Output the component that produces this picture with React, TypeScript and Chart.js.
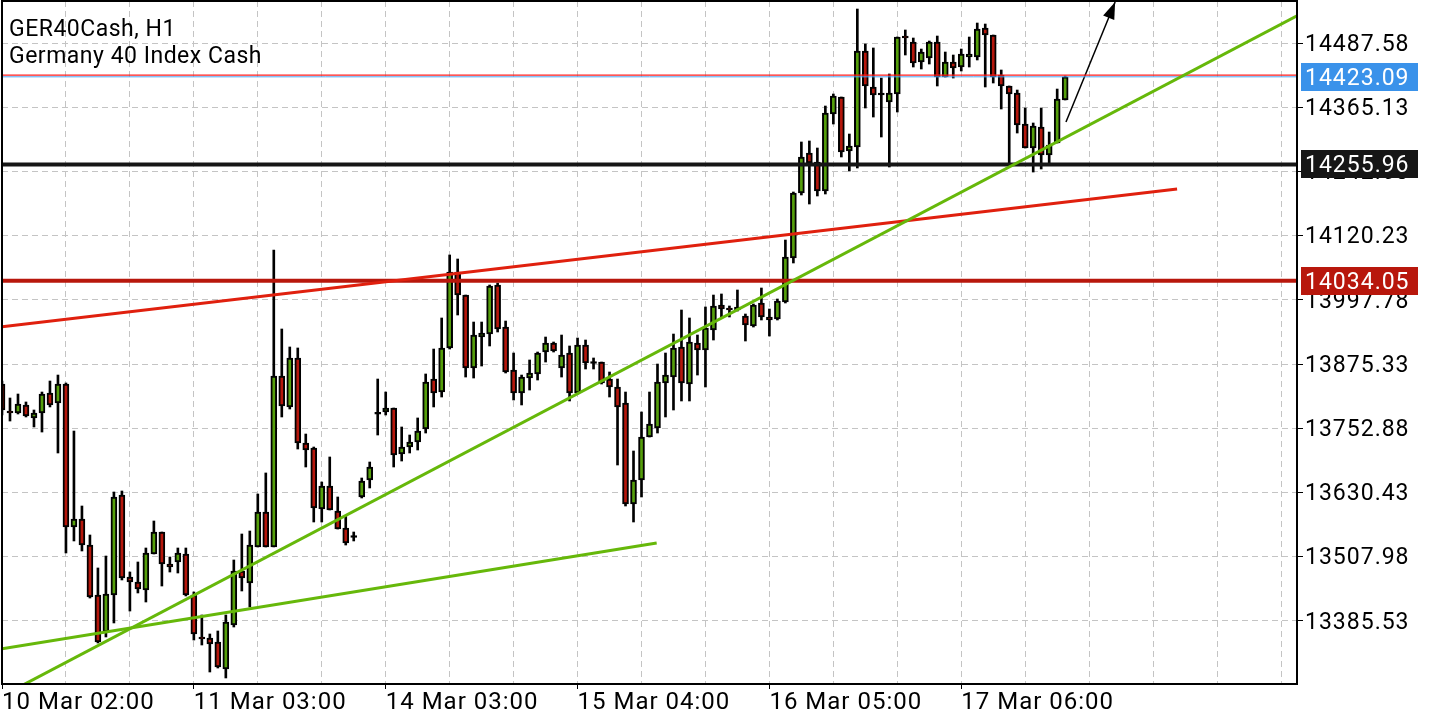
import { useEffect, useRef } from 'react';
import { Chart, registerables } from 'chart.js';

Chart.register(...registerables);

// ---- data (H1 bars, index 0 = 10 Mar 02:00) ----
const opens = [
  13837.2, 13785.7, 13781.9, 13797.2, 13772.4, 13781.9, 13820.0, 13801.0, 13837.2, 13564.5,
  13579.7, 13530.1, 13434.8, 13364.2, 13434.8, 13625.5, 13469.1, 13459.6, 13444.3, 13513.0,
  13554.9, 13493.9, 13497.7, 13513.0, 13434.8, 13354.7, 13352.7, 13345.1, 13293.6, 13377.5,
  13480.5, 13457.7, 13526.3, 13593.1, 13526.3, 13852.4, 13793.4, 13886.8, 13724.7, 13715.1,
  13598.8, 13642.7, 13595.0, 13562.5, 13547.3, 13621.7, 13654.1, 13782.0, 13783.8, 13791.4,
  13703.7, 13717.0, 13726.6, 13751.3, 13846.7, 13821.9, 13905.9, 14050.8, 14006.9, 13867.7,
  13926.8, 13932.5, 14026.0, 13945.9, 13863.9, 13820.0, 13848.6, 13856.3, 13898.2, 13915.4,
  13867.7, 13896.3, 13820.0, 13911.6, 13879.1, 13879.1, 13846.7, 13831.5, 13801.0, 13608.3,
  13654.1, 13736.1, 13753.2, 13839.1, 13850.5, 13907.8, 13837.2, 13915.4, 13902.0, 13940.2,
  13987.9, 13982.1, 13978.3, 13966.9, 13947.8, 13991.7, 13965.0, 13961.2, 13993.6, 14077.5,
  14201.5, 14277.8, 14260.6, 14205.3, 14352.2, 14384.6, 14281.6, 14289.2, 14472.3, 14403.7,
  14391.2, 14375.0, 14390.3, 14500.9, 14489.5, 14451.3, 14459.0, 14489.5, 14422.7, 14451.3,
  14441.8, 14460.9, 14460.9, 14516.2, 14502.8, 14426.6, 14405.6, 14392.2, 14333.1, 14287.3,
  14327.4, 14274.0, 14296.8, 14378.9,
];
const highs = [
  13842.9, 13810.5, 13818.1, 13802.9, 13787.6, 13821.9, 13842.9, 13854.3, 13839.1, 13747.5,
  13604.5, 13549.2, 13486.3, 13509.1, 13631.2, 13633.1, 13478.6, 13497.7, 13524.4, 13575.9,
  13554.9, 13507.2, 13524.4, 13524.4, 13440.5, 13396.6, 13360.4, 13366.1, 13396.6, 13501.5,
  13551.1, 13556.8, 13627.4, 13667.5, 14092.8, 13942.1, 13907.8, 13905.9, 13741.8, 13717.0,
  13650.3, 13698.0, 13621.7, 13585.4, 13554.9, 13657.9, 13688.4, 13846.7, 13821.9, 13791.4,
  13755.2, 13739.9, 13772.4, 13856.3, 13903.9, 13963.1, 14083.3, 14075.6, 14006.9, 13955.4,
  13955.4, 14026.0, 14029.8, 13957.3, 13896.3, 13854.3, 13883.0, 13898.2, 13926.8, 13917.3,
  13930.6, 13909.7, 13924.9, 13921.1, 13886.8, 13879.1, 13860.1, 13846.7, 13821.9, 13709.4,
  13783.8, 13821.9, 13875.3, 13896.3, 13932.5, 13978.3, 13963.1, 13930.6, 13984.1, 14006.9,
  14008.9, 13986.0, 14016.5, 13970.7, 13989.8, 14020.3, 13980.2, 13999.3, 14111.8, 14203.4,
  14298.8, 14300.7, 14287.3, 14367.4, 14390.3, 14384.6, 14314.0, 14552.4, 14485.7, 14478.1,
  14420.8, 14428.5, 14499.0, 14512.4, 14497.1, 14476.1, 14491.4, 14500.9, 14470.4, 14464.7,
  14476.1, 14499.0, 14525.7, 14523.8, 14502.8, 14436.1, 14405.6, 14397.9, 14363.6, 14335.0,
  14363.6, 14317.8, 14399.8, 14424.6,
];
const lows = [
  13778.1, 13766.6, 13780.0, 13774.3, 13755.2, 13745.6, 13793.4, 13705.6, 13514.9, 13537.8,
  13518.7, 13429.0, 13343.2, 13354.7, 13381.4, 13463.4, 13404.2, 13438.6, 13421.4, 13513.0,
  13451.9, 13478.6, 13476.7, 13432.9, 13348.9, 13339.4, 13287.9, 13295.5, 13276.5, 13373.7,
  13442.4, 13411.9, 13526.3, 13526.3, 13526.3, 13774.3, 13789.5, 13713.2, 13678.9, 13574.0,
  13574.0, 13596.9, 13560.6, 13530.1, 13537.8, 13619.8, 13638.9, 13739.9, 13778.1, 13678.9,
  13690.3, 13705.6, 13711.3, 13743.7, 13793.4, 13812.4, 13903.9, 13968.8, 13850.5, 13848.6,
  13871.5, 13909.7, 13936.4, 13858.2, 13806.7, 13797.2, 13825.7, 13844.8, 13879.1, 13898.2,
  13850.5, 13804.8, 13818.1, 13865.8, 13865.8, 13837.2, 13812.4, 13682.7, 13604.5, 13574.0,
  13621.7, 13736.1, 13743.7, 13774.3, 13787.6, 13804.8, 13804.8, 13854.3, 13831.5, 13921.1,
  13965.0, 13965.0, 13976.4, 13919.2, 13945.9, 13959.3, 13928.7, 13959.3, 13991.7, 14068.0,
  14197.7, 14180.5, 14195.8, 14199.6, 14333.1, 14270.2, 14243.4, 14249.2, 14363.6, 14346.4,
  14308.3, 14251.1, 14356.0, 14464.7, 14441.8, 14438.0, 14447.5, 14405.6, 14422.7, 14420.8,
  14434.2, 14441.8, 14455.2, 14403.7, 14411.3, 14361.7, 14254.9, 14315.9, 14287.3, 14241.5,
  14247.3, 14258.7, 14296.8, 14378.9,
];
const closes = [
  13787.6, 13781.9, 13799.0, 13776.2, 13781.9, 13818.1, 13797.2, 13837.2, 13564.5, 13579.7,
  13530.1, 13430.9, 13345.1, 13436.7, 13621.7, 13467.2, 13459.6, 13446.2, 13514.9, 13554.9,
  13493.9, 13488.2, 13514.9, 13434.8, 13360.4, 13350.8, 13341.3, 13297.4, 13383.3, 13480.5,
  13467.2, 13530.1, 13593.1, 13526.3, 13852.4, 13795.2, 13886.8, 13724.7, 13711.3, 13600.7,
  13642.7, 13596.9, 13560.6, 13533.9, 13545.4, 13652.2, 13678.9, 13781.0, 13791.4, 13701.8,
  13717.0, 13726.6, 13747.5, 13841.0, 13820.0, 13905.9, 14050.8, 14006.9, 13867.7, 13930.6,
  13934.5, 14024.1, 13942.1, 13860.1, 13820.0, 13850.5, 13858.2, 13896.3, 13915.4, 13900.1,
  13892.5, 13820.0, 13911.6, 13877.2, 13877.2, 13839.1, 13831.5, 13793.4, 13608.3, 13654.1,
  13736.1, 13760.9, 13841.0, 13854.3, 13905.9, 13839.1, 13917.3, 13902.0, 13944.0, 13986.0,
  13980.2, 13978.3, 13984.1, 13949.7, 13987.9, 13965.0, 13959.3, 13995.5, 14079.4, 14201.5,
  14270.2, 14258.7, 14205.3, 14354.1, 14386.5, 14279.7, 14291.1, 14472.3, 14405.6, 14388.4,
  14389.4, 14392.2, 14499.0, 14497.1, 14449.4, 14470.4, 14489.5, 14422.7, 14451.3, 14439.9,
  14466.6, 14466.6, 14514.3, 14502.8, 14422.7, 14405.6, 14390.3, 14331.2, 14287.3, 14329.3,
  14274.0, 14293.0, 14380.8, 14423.09,
];

const timeLabelBars = [0, 24, 48, 72, 96, 120];
const timeLabels = ['10 Mar 02:00', '11 Mar 03:00', '14 Mar 03:00', '15 Mar 04:00', '16 Mar 05:00', '17 Mar 06:00'];
const priceTicks = [13385.53, 13507.98, 13630.43, 13752.88, 13875.33, 13997.78, 14120.23, 14242.68, 14365.13, 14487.58];

const bidPrice = 14423.09;
const askPrice = 14426.4;
const resistancePrice = 14255.96;
const supportPrice = 14034.05;

const steepTrendX = [0, 162];
const steepTrendY = [13242.1, 14539.3];
const shallowTrendX = [0, 81.9];
const shallowTrendY = [13332.4, 13534.0];
const redTrendX = [0, 147];
const redTrendY = [13946.3, 14209.1];
const arrowX = [133.1, 139.25];
const arrowY = [14336.9, 14565.8];

const X_MIN = 0;
const X_MAX = 162;
const Y_MIN = 13265.0;
const Y_MAX = 14567.7;

const UP = '#559f0b';
const DOWN = '#b5170c';
const FONT = 'Roboto';

function twoPoint(xs: number[], ys: number[]) {
  return xs.map((x, i) => ({ x, y: ys[i] }));
}

export default function App() {
  const ref = useRef<HTMLCanvasElement>(null);

  useEffect(() => {
    const canvas = ref.current;
    if (!canvas) return;

    const bodyData = opens.map((o, i) => {
      const c = closes[i];
      if (Math.abs(c - o) < 3) {
        const m = (o + c) / 2;
        return { x: i, y: [m - 1.8, m + 1.8] };
      }
      return { x: i, y: [o, c] };
    });
    const bodyColors = opens.map((o, i) => {
      const c = closes[i];
      if (Math.abs(c - o) < 3) return '#000';
      return c > o ? UP : DOWN;
    });
    const wickData = lows.map((l, i) => ({ x: i, y: [l, highs[i]] }));

    const lineDs = (data: any[], color: string, width: number) => ({
      type: 'line' as const,
      data,
      borderColor: color,
      borderWidth: width,
      pointRadius: 0,
      tension: 0,
      order: 0,
    });

    const letterSpacingPlugin = {
      id: 'spacing',
      beforeDraw(chart: any) {
        chart.ctx.letterSpacing = '1px';
      },
    };

    const overlayPlugin = {
      id: 'overlay',
      afterDatasetsDraw(chart: any) {
        const { ctx, scales } = chart;
        const x = scales.x;
        const y = scales.y;
        // arrow head
        const x1 = x.getPixelForValue(arrowX[0]);
        const y1 = y.getPixelForValue(arrowY[0]);
        const x2 = x.getPixelForValue(arrowX[1]);
        const y2 = y.getPixelForValue(arrowY[1]);
        const ang = Math.atan2(y2 - y1, x2 - x1);
        const len = 17;
        const hw = 6;
        const bx = x2 - len * Math.cos(ang);
        const by = y2 - len * Math.sin(ang);
        ctx.save();
        ctx.fillStyle = '#000';
        ctx.beginPath();
        ctx.moveTo(x2, y2);
        ctx.lineTo(bx + hw * Math.sin(ang), by - hw * Math.cos(ang));
        ctx.lineTo(bx - hw * Math.sin(ang), by + hw * Math.cos(ang));
        ctx.closePath();
        ctx.fill();
        ctx.restore();
      },
      afterDraw(chart: any) {
        const { ctx, chartArea, scales } = chart;
        const y = scales.y;
        ctx.save();
        // frame
        ctx.strokeStyle = '#000';
        ctx.lineWidth = 2;
        ctx.setLineDash([]);
        ctx.strokeRect(chartArea.left, chartArea.top, chartArea.right - chartArea.left, chartArea.bottom - chartArea.top);
        // price boxes
        const boxes = [
          { v: bidPrice, c: '#3a92ea' },
          { v: resistancePrice, c: '#161616' },
          { v: supportPrice, c: '#b8170c' },
        ];
        ctx.font = `23px ${FONT}`;
        ctx.textBaseline = 'middle';
        ctx.textAlign = 'left';
        (ctx as any).letterSpacing = '1px';
        for (const b of boxes) {
          const py = y.getPixelForValue(b.v);
          ctx.fillStyle = b.c;
          ctx.fillRect(chartArea.right + 4, Math.round(py - 14), 117, 28);
          ctx.fillStyle = '#fff';
          ctx.fillText(b.v.toFixed(2), chartArea.right + 8, py + 2);
        }
        // title
        (ctx as any).letterSpacing = '0.5px';
        ctx.fillStyle = '#000';
        ctx.fillText('GER40Cash, H1', 9, 30);
        ctx.fillText('Germany 40 Index Cash', 9, 57);
        ctx.restore();
      },
    };

    const chart = new Chart(canvas, {
      type: 'bar',
      data: {
        datasets: [
          lineDs(twoPoint(steepTrendX, steepTrendY), '#66b80a', 3),
          lineDs(twoPoint(shallowTrendX, shallowTrendY), '#66b80a', 3),
          lineDs(twoPoint(redTrendX, redTrendY), '#e0200e', 3),
          lineDs(twoPoint([X_MIN, X_MAX], [supportPrice, supportPrice]), '#b8170c', 4),
          lineDs(twoPoint([X_MIN, X_MAX], [resistancePrice, resistancePrice]), '#161616', 4),
          lineDs(twoPoint([X_MIN, X_MAX], [askPrice, askPrice]), '#ff1e1e', 1.3),
          lineDs(twoPoint([X_MIN, X_MAX], [bidPrice, bidPrice]), '#4da3f2', 1),
          lineDs(twoPoint(arrowX, arrowY), '#000', 1.5),
          {
            type: 'bar' as const,
            data: bodyData as any,
            backgroundColor: bodyColors,
            borderColor: '#000',
            borderWidth: 2,
            borderSkipped: false,
            barThickness: 6,
            grouped: false,
            order: 1,
          },
          {
            type: 'bar' as const,
            data: wickData as any,
            backgroundColor: '#000',
            borderWidth: 0,
            barThickness: 2,
            grouped: false,
            order: 2,
          },
        ] as any,
      },
      options: {
        responsive: false,
        animation: false,
        devicePixelRatio: 1,
        layout: { padding: { left: 2, top: 1, right: 0, bottom: 0 } },
        plugins: { legend: { display: false }, tooltip: { enabled: false } },
        scales: {
          x: {
            type: 'linear',
            min: X_MIN,
            max: X_MAX,
            offset: false,
            grid: {
              offset: false,
              color: '#c4c4c4',
              lineWidth: 1,
              tickLength: 5,
              tickColor: (c: any) => (c.tick && timeLabelBars.includes(c.tick.value) ? '#000' : 'rgba(0,0,0,0)'),
            },
            border: { display: false, dash: [6, 4] },
            afterBuildTicks: (scale: any) => {
              const t = [];
              for (let v = 0; v <= 160; v += 8) t.push({ value: v });
              scale.ticks = t;
            },
            afterFit: (scale: any) => {
              scale.height = 36;
              scale.paddingLeft = 0;
              scale.paddingRight = 0;
            },
            ticks: {
              autoSkip: false,
              maxRotation: 0,
              minRotation: 0,
              align: 'start',
              padding: 2,
              color: '#000',
              font: { family: FONT, size: 24, lineHeight: 1 },
              callback: (v: any) => {
                const k = timeLabelBars.indexOf(Number(v));
                return k >= 0 ? timeLabels[k] : '';
              },
            },
          },
          y: {
            type: 'linear',
            position: 'right',
            min: Y_MIN,
            max: Y_MAX,
            beginAtZero: false,
            grid: { color: '#c4c4c4', lineWidth: 1, tickLength: 6, tickColor: '#000' },
            border: { display: false, dash: [6, 4] },
            afterBuildTicks: (scale: any) => {
              scale.ticks = priceTicks.map((v) => ({ value: v }));
            },
            afterFit: (scale: any) => {
              scale.width = 143;
              scale.paddingTop = 0;
              scale.paddingBottom = 0;
            },
            ticks: {
              padding: 2,
              labelOffset: 2,
              color: '#000',
              font: { family: FONT, size: 23, lineHeight: 1 },
              callback: (v: any) => Number(v).toFixed(2),
            },
          },
        },
      } as any,
      plugins: [letterSpacingPlugin, overlayPlugin],
    });

    return () => chart.destroy();
  }, []);

  return (
    <div style={{ position: 'absolute', left: 0, top: 0, width: 1440, height: 720, background: '#fff' }}>
      <canvas ref={ref} width={1440} height={720} style={{ display: 'block', width: 1440, height: 720 }} />
    </div>
  );
}
